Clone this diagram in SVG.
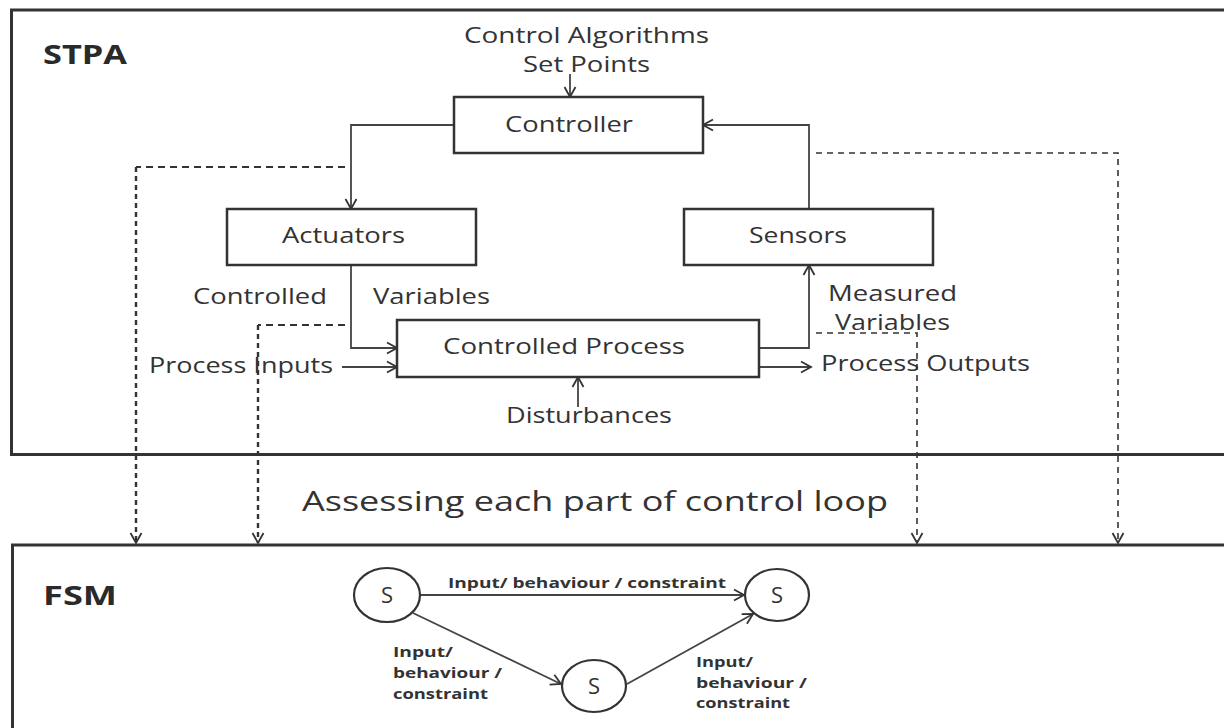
<svg xmlns="http://www.w3.org/2000/svg" width="1224" height="728" viewBox="0 0 1224 728">
  <style>
    .frame { fill: none; stroke: #333; stroke-width: 3; }
    .box { fill: #fff; stroke: #333; stroke-width: 2.5; }
    .state { fill: #fff; stroke: #333; stroke-width: 2.2; }
    .link { fill: none; stroke: #444; stroke-width: 1.8; }
    .dash { fill: none; stroke: #333; stroke-width: 2; stroke-dasharray: 7 5; }
    .dashv { fill: none; stroke: #333; stroke-width: 2.4; stroke-dasharray: 5 4; }
    .dashthin { fill: none; stroke: #333; stroke-width: 1.6; stroke-dasharray: 6 5; }
    .lbl { font-family: "Open Sans", "Liberation Sans", sans-serif; font-size: 21px; fill: #333; }
    .title { font-family: "Open Sans", "Liberation Sans", sans-serif; font-size: 27px; font-weight: bold; fill: #2a2a2a; }
    .big { font-family: "Open Sans", "Liberation Sans", sans-serif; font-size: 28px; fill: #333; }
    .edge { font-family: "Open Sans", "Liberation Sans", sans-serif; font-size: 14px; font-weight: bold; fill: #333; }
    .s { font-family: "Open Sans", "Liberation Sans", sans-serif; font-size: 22px; fill: #333; text-anchor: middle; }
  </style>
  <defs>
    <marker id="arr" markerUnits="userSpaceOnUse" markerWidth="14" markerHeight="14" refX="11" refY="7" orient="auto">
      <path d="M1,1.5 L11,7 L1,12.5" fill="none" stroke="#333" stroke-width="1.8"/>
    </marker>
  </defs>

  <rect width="1224" height="728" fill="#fff"/>

  <!-- STPA frame -->
  <g id="stpa-frame">
    <path class="frame" d="M1230,10 L11.5,10 L11.5,454.5 L1230,454.5"/>
    <text class="title" x="43" y="64" textLength="84" lengthAdjust="spacingAndGlyphs">STPA</text>
  </g>

  <!-- FSM frame -->
  <g id="fsm-frame">
    <path class="frame" d="M1230,545 L12.5,545 L12.5,740"/>
    <text class="title" x="43" y="605" textLength="74" lengthAdjust="spacingAndGlyphs">FSM</text>
  </g>

  <!-- connectors -->
  <g id="connectors">
    <!-- control loop -->
    <line class="link" x1="570" y1="74" x2="570" y2="97" marker-end="url(#arr)"/>
    <polyline class="link" points="454,125 351,125 351,209" marker-end="url(#arr)"/>
    <polyline class="link" points="809,209 809,125 703,125" marker-end="url(#arr)"/>
    <polyline class="link" points="351,265 351,348 397,348" marker-end="url(#arr)"/>
    <line class="link" x1="342" y1="367" x2="397" y2="367" marker-end="url(#arr)"/>
    <polyline class="link" points="759,348 809,348 809,265" marker-end="url(#arr)"/>
    <line class="link" x1="759" y1="367" x2="811" y2="367" marker-end="url(#arr)"/>
    <line class="link" x1="578" y1="407" x2="578" y2="377" marker-end="url(#arr)"/>

    <!-- assessment links -->
    <polyline class="dash" points="345,167 136,167"/>
    <line class="dashv" x1="136" y1="167" x2="136" y2="543" marker-end="url(#arr)"/>
    <polyline class="dash" points="345,325 258,325"/>
    <line class="dashv" x1="258" y1="325" x2="258" y2="543" marker-end="url(#arr)"/>
    <polyline class="dashthin" points="816,153 1118,153 1118,543" marker-end="url(#arr)"/>
    <polyline class="dashthin" points="816,333 917,333 917,543" marker-end="url(#arr)"/>

    <!-- state transitions -->
    <line class="link" x1="420" y1="595" x2="744" y2="595" marker-end="url(#arr)"/>
    <line class="link" x1="413" y1="613" x2="561" y2="684" marker-end="url(#arr)"/>
    <line class="link" x1="627" y1="684" x2="753" y2="614" marker-end="url(#arr)"/>
  </g>

  <!-- free labels -->
  <g id="labels">
    <text class="lbl" x="464" y="43" textLength="245" lengthAdjust="spacingAndGlyphs">Control Algorithms</text>
    <text class="lbl" x="523" y="72" textLength="127" lengthAdjust="spacingAndGlyphs">Set Points</text>
    <text class="lbl" x="193" y="304" textLength="134" lengthAdjust="spacingAndGlyphs">Controlled</text>
    <text class="lbl" x="373" y="304" textLength="117" lengthAdjust="spacingAndGlyphs">Variables</text>
    <text class="lbl" x="149" y="373" textLength="184" lengthAdjust="spacingAndGlyphs">Process Inputs</text>
    <text class="lbl" x="506" y="423" textLength="166" lengthAdjust="spacingAndGlyphs">Disturbances</text>
    <text class="lbl" x="828" y="301" textLength="129" lengthAdjust="spacingAndGlyphs">Measured</text>
    <text class="lbl" x="835" y="330" textLength="115" lengthAdjust="spacingAndGlyphs">Variables</text>
    <text class="lbl" x="821" y="371" textLength="209" lengthAdjust="spacingAndGlyphs">Process Outputs</text>
    <text class="big" x="302" y="511" textLength="586" lengthAdjust="spacingAndGlyphs">Assessing each part of control loop</text>
    <text class="edge" x="448" y="588" textLength="278" lengthAdjust="spacingAndGlyphs">Input/ behaviour / constraint</text>
    <text class="edge" x="393" y="657" textLength="60" lengthAdjust="spacingAndGlyphs">Input/</text>
    <text class="edge" x="393" y="678" textLength="109" lengthAdjust="spacingAndGlyphs">behaviour /</text>
    <text class="edge" x="393" y="699" textLength="95" lengthAdjust="spacingAndGlyphs">constraint</text>
    <text class="edge" x="696" y="667" textLength="57" lengthAdjust="spacingAndGlyphs">Input/</text>
    <text class="edge" x="696" y="688" textLength="111" lengthAdjust="spacingAndGlyphs">behaviour /</text>
    <text class="edge" x="696" y="708" textLength="94" lengthAdjust="spacingAndGlyphs">constraint</text>
  </g>

  <!-- STPA nodes -->
  <g id="controller">
    <rect class="box" x="454" y="97" width="249" height="56"/>
    <text class="lbl" x="505" y="132" textLength="128" lengthAdjust="spacingAndGlyphs">Controller</text>
  </g>
  <g id="actuators">
    <rect class="box" x="227" y="209" width="249" height="56"/>
    <text class="lbl" x="282" y="243" textLength="123" lengthAdjust="spacingAndGlyphs">Actuators</text>
  </g>
  <g id="sensors">
    <rect class="box" x="684" y="209" width="249" height="56"/>
    <text class="lbl" x="749" y="243" textLength="98" lengthAdjust="spacingAndGlyphs">Sensors</text>
  </g>
  <g id="controlled-process">
    <rect class="box" x="397" y="320" width="362" height="57"/>
    <text class="lbl" x="443" y="354" textLength="242" lengthAdjust="spacingAndGlyphs">Controlled Process</text>
  </g>

  <!-- FSM states -->
  <g id="state-1">
    <ellipse class="state" cx="387" cy="595" rx="33" ry="27"/>
    <text class="s" x="387" y="603">S</text>
  </g>
  <g id="state-2">
    <ellipse class="state" cx="777" cy="595" rx="32" ry="26"/>
    <text class="s" x="777" y="603">S</text>
  </g>
  <g id="state-3">
    <ellipse class="state" cx="594" cy="686" rx="32" ry="26"/>
    <text class="s" x="594" y="694">S</text>
  </g>
</svg>
